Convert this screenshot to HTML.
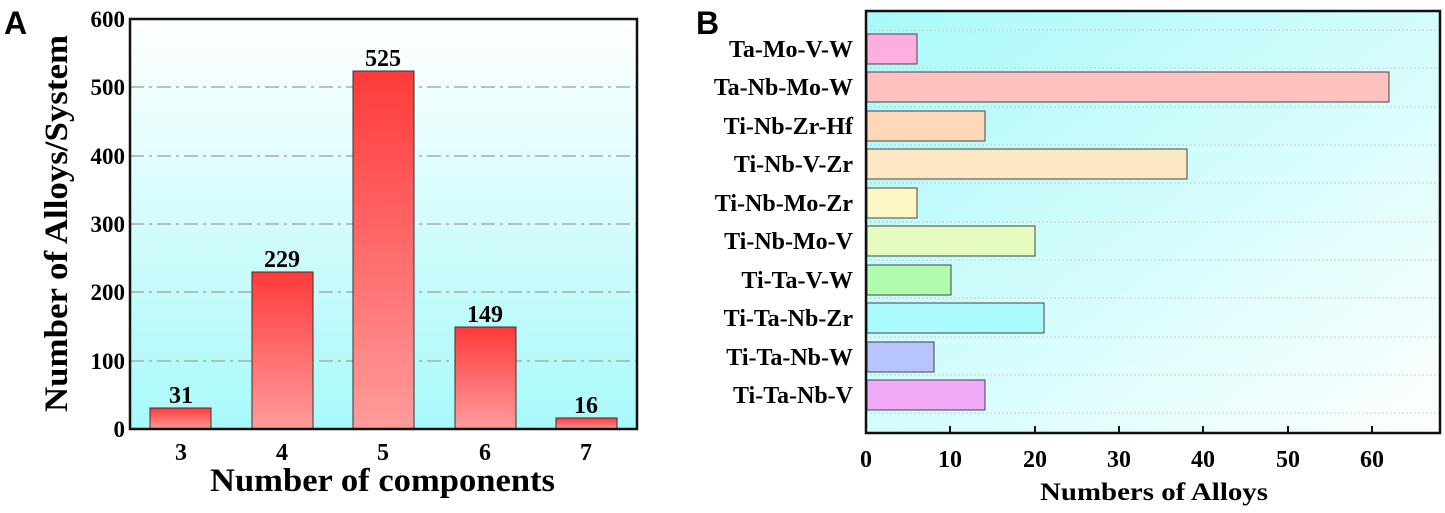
<!DOCTYPE html>
<html><head><meta charset="utf-8"><style>body{margin:0;background:#fff}</style></head><body>
<svg width="1445" height="508" xmlns="http://www.w3.org/2000/svg" font-family="Liberation Serif, serif" font-weight="bold">
<defs>
<linearGradient id="ga" x1="0" y1="0" x2="0" y2="1"><stop offset="0" stop-color="#ffffff"/><stop offset="1" stop-color="#a8f9f9"/></linearGradient>
<linearGradient id="gb" x1="0" y1="0" x2="1" y2="1"><stop offset="0" stop-color="#a8f9f9"/><stop offset="1" stop-color="#ffffff"/></linearGradient>
<linearGradient id="bar" x1="0" y1="0" x2="0" y2="1"><stop offset="0" stop-color="#ff3a3a"/><stop offset="1" stop-color="#ff9c9c"/></linearGradient>
</defs>
<text x="4" y="34" font-family="Liberation Sans, sans-serif" font-size="32">A</text>
<text x="696" y="34" font-family="Liberation Sans, sans-serif" font-size="32">B</text>
<!-- Panel A -->
<rect x="130" y="19" width="507" height="410" fill="url(#ga)"/>
<g stroke="#aaa" stroke-width="1.5" stroke-dasharray="14,5,3,5">
<line x1="130" y1="87" x2="637" y2="87"/><line x1="130" y1="156" x2="637" y2="156"/><line x1="130" y1="224" x2="637" y2="224"/><line x1="130" y1="292" x2="637" y2="292"/><line x1="130" y1="361" x2="637" y2="361"/>
</g>
<g fill="url(#bar)" stroke="#333" stroke-width="1">
<rect x="150" y="408" width="61" height="21"/><rect x="252" y="272" width="61" height="157"/><rect x="353" y="71" width="61" height="358"/><rect x="455" y="327" width="61" height="102"/><rect x="556" y="418" width="61" height="11"/>
</g>
<rect x="130" y="19" width="507" height="410" fill="none" stroke="#111" stroke-width="2.5"/>
<g font-size="24" text-anchor="middle">
<text x="181" y="403">31</text><text x="282" y="267">229</text><text x="383" y="66">525</text><text x="485" y="322">149</text><text x="586" y="413">16</text>
<text x="181" y="460">3</text><text x="282" y="460">4</text><text x="383" y="460">5</text><text x="485" y="460">6</text><text x="586" y="460">7</text>
</g>
<g font-size="23" text-anchor="end">
<text x="125" y="27">600</text><text x="125" y="95">500</text><text x="125" y="164">400</text><text x="125" y="232">300</text><text x="125" y="300">200</text><text x="125" y="369">100</text><text x="125" y="437">0</text>
</g>
<text x="210" y="491" font-size="33" textLength="345" lengthAdjust="spacingAndGlyphs">Number of components</text>
<text transform="translate(67,412) rotate(-90)" font-size="33" textLength="377" lengthAdjust="spacingAndGlyphs">Number of Alloys/System</text>
<!-- Panel B -->
<rect x="866" y="11" width="574" height="422" fill="url(#gb)"/>
<g stroke="#ccc" stroke-width="1" stroke-dasharray="2,2">
<line x1="866" y1="30" x2="1440" y2="30"/><line x1="866" y1="68" x2="1440" y2="68"/><line x1="866" y1="107" x2="1440" y2="107"/><line x1="866" y1="145" x2="1440" y2="145"/><line x1="866" y1="183" x2="1440" y2="183"/><line x1="866" y1="222" x2="1440" y2="222"/><line x1="866" y1="260" x2="1440" y2="260"/><line x1="866" y1="298" x2="1440" y2="298"/><line x1="866" y1="337" x2="1440" y2="337"/><line x1="866" y1="375" x2="1440" y2="375"/><line x1="866" y1="413" x2="1440" y2="413"/>
</g>
<g stroke="#444" stroke-width="1">
<rect x="867" y="34" width="50" height="30" fill="#ffaee0"/>
<rect x="867" y="72" width="522" height="30" fill="#ffc0c0"/>
<rect x="867" y="111" width="118" height="30" fill="#ffd8b8"/>
<rect x="867" y="149" width="320" height="30" fill="#fde8c4"/>
<rect x="867" y="188" width="50" height="30" fill="#fbf6c4"/>
<rect x="867" y="226" width="168" height="30" fill="#e6fbc0"/>
<rect x="867" y="265" width="84" height="30" fill="#b2fcb0"/>
<rect x="867" y="303" width="177" height="30" fill="#aafcfc"/>
<rect x="867" y="342" width="67" height="30" fill="#b8c4fc"/>
<rect x="867" y="380" width="118" height="30" fill="#f0aaf8"/>
</g>
<rect x="866" y="11" width="574" height="422" fill="none" stroke="#111" stroke-width="2.5"/>
<g stroke="#111" stroke-width="2">
<line x1="950" y1="433" x2="950" y2="426"/><line x1="1035" y1="433" x2="1035" y2="426"/><line x1="1119" y1="433" x2="1119" y2="426"/><line x1="1203" y1="433" x2="1203" y2="426"/><line x1="1288" y1="433" x2="1288" y2="426"/><line x1="1372" y1="433" x2="1372" y2="426"/>
</g>
<g font-size="24" text-anchor="end">
<text x="853" y="57">Ta-Mo-V-W</text><text x="853" y="95">Ta-Nb-Mo-W</text><text x="853" y="134">Ti-Nb-Zr-Hf</text><text x="853" y="172">Ti-Nb-V-Zr</text><text x="853" y="211">Ti-Nb-Mo-Zr</text><text x="853" y="249">Ti-Nb-Mo-V</text><text x="853" y="288">Ti-Ta-V-W</text><text x="853" y="326">Ti-Ta-Nb-Zr</text><text x="853" y="365">Ti-Ta-Nb-W</text><text x="853" y="403">Ti-Ta-Nb-V</text>
</g>
<g font-size="24" text-anchor="middle">
<text x="866" y="467">0</text><text x="950" y="467">10</text><text x="1035" y="467">20</text><text x="1119" y="467">30</text><text x="1203" y="467">40</text><text x="1288" y="467">50</text><text x="1372" y="467">60</text>
</g>
<text x="1040" y="500" font-size="25" textLength="228" lengthAdjust="spacingAndGlyphs">Numbers of Alloys</text>
</svg>
</body></html>
